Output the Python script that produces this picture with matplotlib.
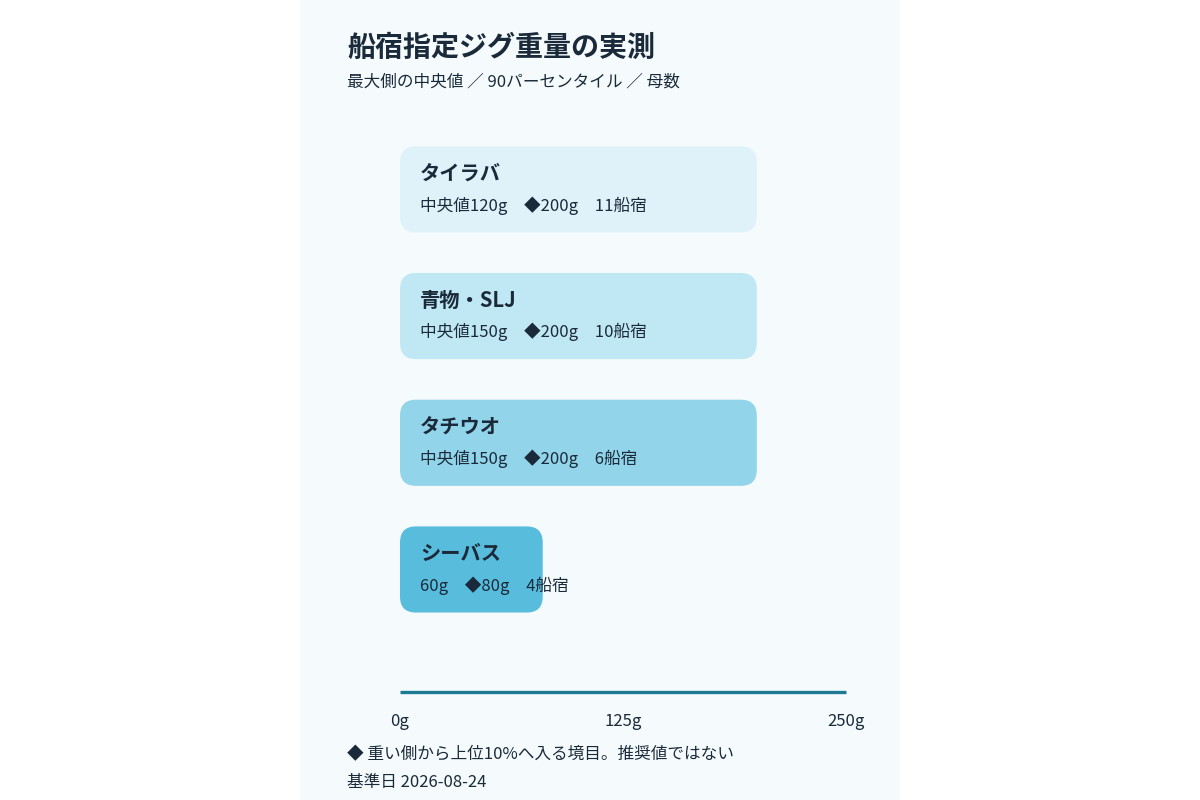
import matplotlib.pyplot as plt
from matplotlib.patches import FancyBboxPatch, Rectangle

plt.rcParams['font.family'] = ['Noto Sans CJK JP', 'DejaVu Sans']

# data
categories = ['タイラバ', '青物・SLJ', 'タチウオ', 'シーバス']
median_g = [120, 150, 150, 60]
p90_g = [200, 200, 200, 80]
n_shops = [11, 10, 6, 4]
show_median_label = [True, True, True, False]
bar_colors = ['#dff2fa', '#c0e8f4', '#92d4e9', '#58bddd']
tick_vals = [0, 125, 250]

ink = '#1b2a3a'
fig = plt.figure(figsize=(12, 8), dpi=100)
fig.patch.set_facecolor('white')

# light panel in the middle
fig.patches.append(Rectangle((300 / 1200, 0), 600 / 1200, 1, transform=fig.transFigure,
                             facecolor='#f5fbfd', edgecolor='none', zorder=-5))

ax = fig.add_axes([400 / 1200, 0.135, 446 / 1200, 0.7075])
ax.set_zorder(2)
ax.set_facecolor('none')
ax.set_xlim(0, 250)
ax.set_ylim(3.967, -0.5)

# rounded corners: ~16 px, x = 1.784 px/g, y = 126.7 px/unit
r_x = 16 / 1.784
aspect = (16 / 126.7) / r_x
h = 0.68
for i, cat in enumerate(categories):
    box = FancyBboxPatch((0, i - h / 2), p90_g[i], h,
                         boxstyle=f'round,pad=0,rounding_size={r_x}',
                         mutation_aspect=aspect,
                         facecolor=bar_colors[i], edgecolor='none')
    ax.add_patch(box)
    ax.annotate(cat, xy=(0, i), xytext=(20, 16), textcoords='offset pixels',
                ha='left', va='center', fontsize=14.6, fontweight='bold', color=ink)
    med = f'中央値{median_g[i]}g' if show_median_label[i] else f'{median_g[i]}g'
    detail = f'{med}\u3000◆{p90_g[i]}g\u3000{n_shops[i]}船宿'
    ax.annotate(detail, xy=(0, i), xytext=(20, -16), textcoords='offset pixels',
                ha='left', va='center', fontsize=12, color=ink)

for s in ['top', 'right', 'left']:
    ax.spines[s].set_visible(False)
ax.spines['bottom'].set_color('#1d7a92')
ax.spines['bottom'].set_linewidth(2.4)
ax.spines['bottom'].set_capstyle('butt')
ax.set_yticks([])
ax.set_xticks(tick_vals)
ax.set_xticklabels([f'{v}g' for v in tick_vals])
ax.tick_params(axis='x', length=0, pad=15, labelsize=12, labelcolor=ink)

# titles and notes
fig.text(347 / 1200, 1 - 48 / 800, '船宿指定ジグ重量の実測', fontsize=20.2,
         fontweight='bold', color=ink, ha='left', va='center')
fig.text(347 / 1200, 1 - 82 / 800, '最大側の中央値 ／ 90パーセンタイル ／ 母数',
         fontsize=12, color=ink, ha='left', va='center')
fig.text(347 / 1200, 1 - 755 / 800, '◆ 重い側から上位10%へ入る境目。推奨値ではない',
         fontsize=12, color=ink, ha='left', va='center')
fig.text(347 / 1200, 1 - 782 / 800, '基準日 2026-08-24',
         fontsize=12, color=ink, ha='left', va='center')

fig.savefig('out.png', dpi=100, facecolor=fig.get_facecolor())
